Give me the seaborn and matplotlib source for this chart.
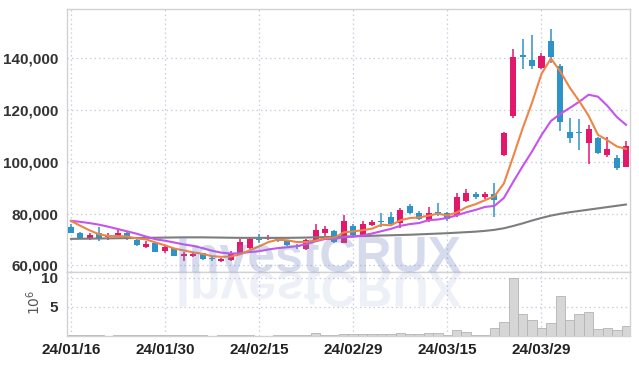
import numpy as np
import pandas as pd
import matplotlib
matplotlib.use("Agg")
import matplotlib.pyplot as plt
import seaborn as sns
from matplotlib.textpath import TextPath
from matplotlib.patches import PathPatch
from matplotlib.font_manager import FontProperties
import matplotlib.transforms as mtransforms

# ---------------- data ----------------
dates = ["24/01/16", "24/01/17", "24/01/18", "24/01/19", "24/01/22", "24/01/23", "24/01/24",
         "24/01/25", "24/01/26", "24/01/29", "24/01/30", "24/01/31", "24/02/01", "24/02/02",
         "24/02/05", "24/02/06", "24/02/07", "24/02/08", "24/02/13", "24/02/14", "24/02/15",
         "24/02/16", "24/02/19", "24/02/20", "24/02/21", "24/02/22", "24/02/23", "24/02/26",
         "24/02/27", "24/02/28", "24/02/29", "24/03/04", "24/03/05", "24/03/06", "24/03/07",
         "24/03/08", "24/03/11", "24/03/12", "24/03/13", "24/03/14", "24/03/15", "24/03/18",
         "24/03/19", "24/03/20", "24/03/21", "24/03/22", "24/03/25", "24/03/26", "24/03/27",
         "24/03/28", "24/03/29", "24/04/01", "24/04/02", "24/04/03", "24/04/04", "24/04/05",
         "24/04/08", "24/04/09", "24/04/11", "24/04/12"]

open_ = [74900, 72480, 70660, 72480, 70810, 71320, 72480, 69770, 67190, 68740,
         65520, 66560, 63710, 63510, 64640, 62700, 61650, 62040, 64360, 66800,
         70270, 70270, 70820, 69500, 67460, 66410, 69770, 72600, 73250, 68730,
         75310, 71700, 75570, 77120, 78780, 76230, 83030, 80350, 77500, 80600,
         80090, 79320, 84960, 87430, 86510, 87700, 102740, 117580, 141390, 139340,
         136370, 146690, 137020, 111510, 111640, 107380, 109310, 102630, 101580, 98100]
high = [76000, 72900, 72600, 74680, 72360, 73900, 72700, 70040, 69270, 69000,
        67570, 66800, 65020, 65100, 64900, 63330, 62930, 65520, 70160, 70820,
        72090, 71600, 71100, 69800, 68230, 70000, 75960, 75180, 73500, 79320,
        76100, 77120, 77500, 80090, 80480, 82030, 83800, 81100, 82650, 84200,
        80600, 88050, 89370, 88330, 88500, 91920, 111400, 143480, 147340, 149000,
        142170, 151200, 137680, 116800, 116430, 114100, 109500, 109470, 102500, 108150]
low = [72400, 70160, 69650, 69500, 69650, 70810, 69800, 67340, 66800, 65000,
       64860, 63400, 61780, 63100, 62200, 61650, 61390, 61650, 64100, 66410,
       68730, 69900, 69100, 67500, 66300, 66000, 69120, 71320, 68700, 68500,
       71300, 71320, 75000, 74910, 75570, 74300, 80000, 77500, 76850, 79050,
       77230, 78780, 84460, 85500, 85800, 78780, 102400, 117040, 135750, 135980,
       135860, 138300, 111900, 107380, 104560, 99150, 103000, 101970, 97000, 97870]
close = [72600, 70660, 71820, 70040, 71320, 72480, 70040, 67960, 68350, 65250,
         67070, 63710, 64360, 64530, 62550, 62430, 62430, 64870, 69120, 70160,
         69890, 70820, 69500, 67840, 66950, 69770, 73640, 73900, 69120, 77120,
         71700, 75960, 76850, 76730, 75960, 81370, 80350, 78010, 80200, 79820,
         77760, 86280, 88050, 86280, 87430, 85230, 111010, 140500, 140620, 137020,
         140890, 140620, 115500, 109310, 111130, 112680, 103510, 104950, 97480, 106100]
volume_m = [0.15, 0.12, 0.10, 0.18, 0.08, 0.12, 0.10, 0.15, 0.12, 0.10,
            0.10, 0.12, 0.15, 0.10, 0.10, 0.08, 0.10, 0.12, 0.10, 0.10,
            0.05, 0.05, 0.10, 0.20, 0.25, 0.25, 0.50, 0.15, 0.25, 0.30,
            0.40, 0.30, 0.30, 0.35, 0.35, 0.45, 0.30, 0.30, 0.45, 0.45,
            0.25, 1.00, 0.75, 0.20, 0.20, 1.30, 2.40, 9.95, 3.80, 2.80,
            1.30, 2.20, 6.90, 2.80, 3.80, 4.10, 1.20, 1.40, 1.00, 1.70]
ma5 = [77200, 75300, 73500, 72000, 71288, 71264, 71140, 70368, 70030, 68816,
       67734, 66468, 65748, 64984, 64444, 63516, 63260, 63362, 64280, 65802,
       67294, 68972, 69898, 69642, 69000, 68976, 69540, 70420, 70676, 72710,
       73096, 73560, 74150, 75672, 75440, 77374, 78252, 78484, 79178, 79950,
       79228, 80414, 82422, 83638, 85160, 86654, 91600, 102090, 112958, 122876,
       134008, 139930, 134930, 128668, 123490, 117848, 110426, 108316, 105950, 104944]
ma10 = [77200, 76800, 76300, 75700, 74900, 74000, 73100, 72200, 71100, 70052,
        69499, 68804, 68058, 67507, 66630, 65625, 64864, 64555, 64632, 65123,
        65405, 66116, 66630, 66961, 67401, 68135, 69256, 70159, 70159, 70855,
        71036, 71550, 72285, 73174, 74075, 75235, 75906, 76317, 77425, 77695,
        78301, 79333, 80453, 81408, 82555, 82941, 86007, 92256, 98298, 104018,
        110331, 115765, 118510, 120813, 123183, 125928, 125178, 121623, 117309, 114217]
ma60 = [70200, 70250, 70300, 70350, 70400, 70450, 70500, 70550, 70600, 70650,
        70700, 70750, 70800, 70800, 70800, 70750, 70700, 70650, 70600, 70600,
        70600, 70600, 70600, 70600, 70650, 70700, 70800, 70900, 71000, 71100,
        71200, 71300, 71400, 71500, 71600, 71700, 71800, 71950, 72100, 72250,
        72400, 72600, 72800, 73000, 73300, 73700, 74300, 75200, 76200, 77300,
        78300, 79200, 79900, 80500, 81000, 81500, 82000, 82500, 83000, 83500]

price_ticks = [60000, 80000, 100000, 120000, 140000]
vol_ticks = [5, 10]

df = pd.DataFrame({"i": np.arange(len(dates)), "date": dates, "open": open_, "high": high,
                   "low": low, "close": close, "vol": volume_m,
                   "ma5": ma5, "ma10": ma10, "ma60": ma60})

# ---------------- style ----------------
sns.set_theme(style="white")
plt.rcParams["font.family"] = ["Liberation Sans Narrow", "Liberation Sans", "DejaVu Sans"]

UP = "#E2186A"
DOWN = "#2E93C6"
GRID = "#c9cde0"
SPINE = "#d2d2d2"

fig = plt.figure(figsize=(6.39, 3.66), dpi=100)
W, H = 639, 366
ax = fig.add_axes([66.7 / W, (H - 272) / H, (630 - 66.7) / W, (272 - 9.3) / H])
axv = fig.add_axes([66.7 / W, (H - 336) / H, (630 - 66.7) / W, (336 - 272) / H], sharex=ax)

# candles
up = df["close"] >= df["open"]
cols = np.where(up, UP, DOWN)
ax.vlines(df["i"], df["low"], df["high"], colors=cols, lw=1.1, zorder=2)
body_low = np.minimum(df["open"], df["close"])
body_h = np.maximum(np.abs(df["close"] - df["open"]), 350)
ax.bar(df["i"], body_h, bottom=body_low, width=0.64, color=cols, linewidth=0, zorder=3)

# moving averages
sns.lineplot(data=df, x="i", y="ma60", ax=ax, color="#7d7d7d", lw=1.5, zorder=4)
sns.lineplot(data=df, x="i", y="ma10", ax=ax, color="#C653EE", lw=1.5, zorder=4)
sns.lineplot(data=df, x="i", y="ma5", ax=ax, color="#EE8446", lw=1.5, zorder=5)

# volume
axv.bar(df["i"], df["vol"], width=1.0, color="#d6d6d6", edgecolor="#b4b4b4", linewidth=0.6, zorder=2)

# axes setup
ax.set_xlim(-0.43, 59.4)
ax.set_ylim(57400, 158950)
axv.set_ylim(0, 11.0)

for a in (ax, axv):
    a.set_xlabel("")
    a.set_ylabel("")
    for s in a.spines.values():
        s.set_color(SPINE)
        s.set_linewidth(1.0)
    a.grid(True, color=GRID, linestyle=(0, (1.2, 2.4)), linewidth=0.9)
    a.set_axisbelow(True)
    a.tick_params(length=0, pad=6)

ax.set_yticks(price_ticks)
ax.set_yticklabels([f"{v:,}" for v in price_ticks], fontsize=11, fontweight="bold", color="#333333")
ax.tick_params(axis="x", labelbottom=False)
xt = list(range(0, len(dates), 10))
axv.set_xticks(xt)
axv.set_xticklabels([dates[k] for k in xt], fontsize=11, fontweight="bold", color="#222222")
axv.set_yticks(vol_ticks)
axv.set_yticklabels([str(v) for v in vol_ticks], fontsize=11, fontweight="bold", color="#333333")
axv.tick_params(axis="x", pad=5)

fig.text(34 / W, (H - 302) / H, r"$10^6$", rotation=90, ha="center", va="center",
         fontsize=10, color="#555555", family="DejaVu Sans")

# watermark
wm_col = (0.46, 0.53, 0.76)
fig.text(176 / W, (H - 272) / H, "InvestCRUX", fontsize=36, fontweight="bold",
         family="Liberation Sans", color=wm_col, alpha=0.3, ha="left", va="baseline", zorder=10)
tp = TextPath((0, 0), "InvestCRUX", size=50,
              prop=FontProperties(family="Liberation Sans", weight="bold"))
tr = mtransforms.Affine2D().scale(1, -1).translate(176, H - 272)
fig.patches.append(PathPatch(tp, transform=tr, facecolor=wm_col, edgecolor="none",
                             alpha=0.12, zorder=10, figure=fig))

fig.savefig("out.png", dpi=100)
